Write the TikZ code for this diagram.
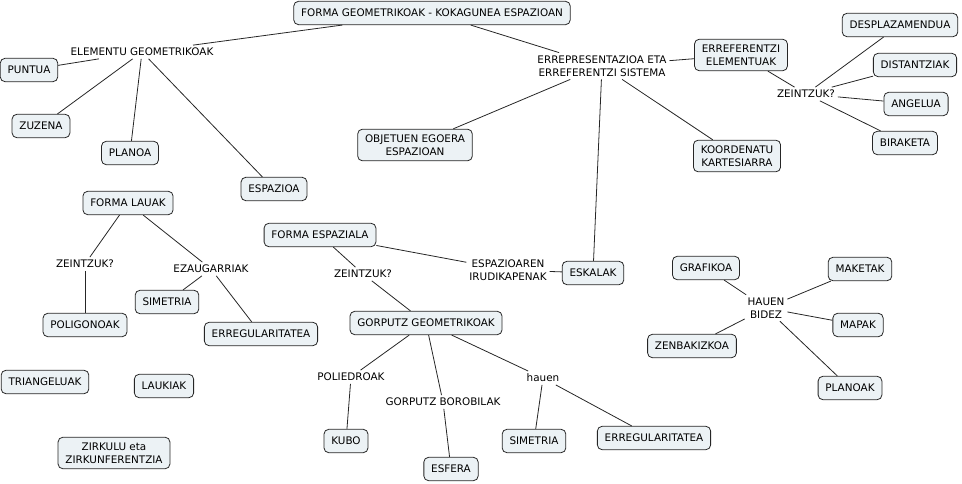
\documentclass[tikz,border=0pt]{standalone}
\usepackage{fontspec}
\setmainfont{DejaVu Sans}
\usepackage{xcolor}
\usetikzlibrary{positioning}
\definecolor{conceptfill}{RGB}{236,242,245}

\begin{document}
\begin{tikzpicture}[
  x=0.75pt, y=-0.75pt,
  every node/.style={font=\fontsize{7.8}{9.8}\selectfont},
  concept/.style={rectangle, draw=black!85, fill=conceptfill, line width=0.6pt,
      rounded corners=3.5pt, align=center, inner xsep=5.5pt, inner ysep=4pt,
      minimum height=17.5pt},
  phrase/.style={align=center, inner sep=2pt},
  link/.style={line width=0.6pt, black!85}
]
\useasboundingbox (0,0) rectangle (962,484);

% main concept and its two branches
\node[concept] (main) at (432,13) {FORMA GEOMETRIKOAK - KOKAGUNEA ESPAZIOAN};
\node[phrase] (elem) at (142,52) {ELEMENTU GEOMETRIKOAK};
\node[phrase] (repr) at (602,66) {ERREPRESENTAZIOA ETA\\ERREFERENTZI SISTEMA};

\node[concept] (puntua)   at (29,70)   {PUNTUA};
\node[concept] (zuzena)   at (41,126)  {ZUZENA};
\node[concept] (planoa)   at (130,153) {PLANOA};
\node[concept] (espazioa) at (274,189) {ESPAZIOA};

\node[concept] (objetuen) at (415,145) {OBJETUEN EGOERA\\ESPAZIOAN};
\node[concept] (errefel)  at (741,55)  {ERREFERENTZI\\ELEMENTUAK};
\node[concept] (koord)    at (737,156) {KOORDENATU\\KARTESIARRA};
\node[phrase]  (zeinR)    at (806,94)  {ZEINTZUK?};
\node[concept] (despl)    at (900,25)  {DESPLAZAMENDUA};
\node[concept] (dist)     at (915,65)  {DISTANTZIAK};
\node[concept] (angelua)  at (916,104) {ANGELUA};
\node[concept] (biraketa) at (905,143) {BIRAKETA};

% forma lauak
\node[concept] (lauak)    at (128,203) {FORMA LAUAK};
\node[phrase]  (zeinL)    at (85,264)  {ZEINTZUK?};
\node[phrase]  (ezaug)    at (211,269) {EZAUGARRIAK};
\node[concept] (simL)     at (167,302) {SIMETRIA};
\node[concept] (polig)    at (85,325)  {POLIGONOAK};
\node[concept] (erregL)   at (261,334) {ERREGULARITATEA};
\node[concept] (triang)   at (45,382)  {TRIANGELUAK};
\node[concept] (laukiak)  at (164,386) {LAUKIAK};
\node[concept] (zirkulu)  at (114,453) {ZIRKULU eta\\ZIRKUNFERENTZIA};

% forma espaziala
\node[concept] (espaz)    at (320,235) {FORMA ESPAZIALA};
\node[phrase]  (zeinM)    at (363,274) {ZEINTZUK?};
\node[phrase]  (irudik)   at (508,270) {ESPAZIOAREN\\IRUDIKAPENAK};
\node[concept] (eskalak)  at (593,273) {ESKALAK};
\node[concept] (gorputz)  at (426,323) {GORPUTZ GEOMETRIKOAK};
\node[phrase]  (polied)   at (351,377) {POLIEDROAK};
\node[phrase]  (borob)    at (443,402) {GORPUTZ BOROBILAK};
\node[phrase]  (hauen)    at (543,378) {hauen};
\node[concept] (kubo)     at (346,441) {KUBO};
\node[concept] (esfera)   at (451,469) {ESFERA};
\node[concept] (simM)     at (534,441) {SIMETRIA};
\node[concept] (erregM)   at (654,438) {ERREGULARITATEA};

% irudikapenak
\node[phrase]  (bidez)    at (766,308) {HAUEN\\BIDEZ};
\node[concept] (grafikoa) at (706,268) {GRAFIKOA};
\node[concept] (maketak)  at (860,269) {MAKETAK};
\node[concept] (mapak)    at (858,325) {MAPAK};
\node[concept] (zenbak)   at (692,346) {ZENBAKIZKOA};
\node[concept] (planoak)  at (850,388) {PLANOAK};

\draw[link] (main) -- (elem);
\draw[link] (main) -- (repr);
\foreach \n in {puntua,zuzena,planoa,espazioa}
  \draw[link] (elem) -- (\n);
\foreach \n in {errefel,objetuen,koord,eskalak}
  \draw[link] (repr) -- (\n);
\draw[link] (errefel) -- (zeinR);
\foreach \n in {despl,dist,angelua,biraketa}
  \draw[link] (zeinR) -- (\n);

\draw[link] (lauak) -- (zeinL);
\draw[link] (lauak) -- (ezaug);
\draw[link] (zeinL) -- (polig);
\draw[link] (ezaug) -- (simL);
\draw[link] (ezaug) -- (erregL);

\draw[link] (espaz) -- (zeinM);
\draw[link] (espaz) -- (irudik);
\draw[link] (irudik) -- (eskalak);
\draw[link] (zeinM) -- (gorputz);
\draw[link] (gorputz) -- (polied);
\draw[link] (gorputz) -- (borob);
\draw[link] (gorputz) -- (hauen);
\draw[link] (polied) -- (kubo);
\draw[link] (borob) -- (esfera);
\draw[link] (hauen) -- (simM);
\draw[link] (hauen) -- (erregM);

\foreach \n in {grafikoa,maketak,mapak,zenbak,planoak}
  \draw[link] (bidez) -- (\n);
\end{tikzpicture}
\end{document}
